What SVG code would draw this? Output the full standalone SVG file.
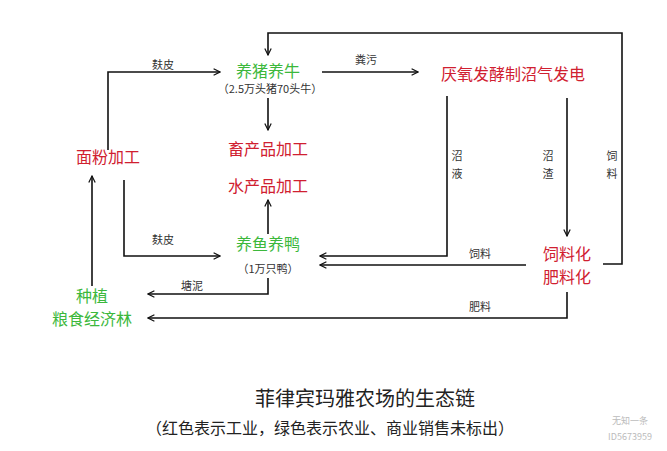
<svg xmlns="http://www.w3.org/2000/svg" width="667" height="451" viewBox="0 0 667 451">
<style>
text{font-family:"Noto Sans CJK SC","Liberation Sans",sans-serif;text-anchor:middle}
.g{fill:#3cb83c;font-size:16px}
.r{fill:#d02030;font-size:16px}
.l{fill:#333;font-size:11px}
.c path{fill:none;stroke:#111;stroke-width:1.6;marker-end:url(#a)}
</style>
<defs><marker id="a" viewBox="0 0 10 10" refX="9" refY="5" markerWidth="8" markerHeight="8" markerUnits="userSpaceOnUse" orient="auto"><path d="M1 1L9 5L1 9" fill="none" stroke="#111" stroke-width="1.5"/></marker></defs>
<rect width="667" height="451" fill="#fff"/>
<g class="c">
<path d="M108 150V72H220"/>
<path d="M322 72H418"/>
<path d="M268 98V130"/>
<path d="M268 234V200"/>
<path d="M124 180V256H220"/>
<path d="M447 96V256H320"/>
<path d="M567 98V236"/>
<path d="M603 264H622V33H268V55"/>
<path d="M526 265H320"/>
<path d="M268 278V294H148"/>
<path d="M567 292V318H148"/>
<path d="M92 286V176"/>
</g>
<g class="l">
<text x="163" y="69">麸皮</text>
<text x="366" y="64">粪污</text>
<text x="163" y="244">麸皮</text>
<text x="457" y="160">沼</text><text x="457" y="178">液</text>
<text x="548" y="160">沼</text><text x="548" y="178">渣</text>
<text x="612" y="160">饲</text><text x="612" y="178">料</text>
<text x="480" y="258">饲料</text>
<text x="192" y="290">塘泥</text>
<text x="480" y="311">肥料</text>
</g>
<g id="pig"><text class="g" x="268" y="77">养猪养牛</text><text class="l" x="270" y="93">（2.5万头猪70头牛）</text></g>
<g id="biogas"><text class="r" x="513" y="80">厌氧发酵制沼气发电</text></g>
<g id="xu"><text class="r" x="268" y="155">畜产品加工</text></g>
<g id="shui"><text class="r" x="268" y="192">水产品加工</text></g>
<g id="flour"><text class="r" x="108" y="163">面粉加工</text></g>
<g id="fish"><text class="g" x="268" y="250">养鱼养鸭</text><text class="l" x="268" y="273">（1万只鸭）</text></g>
<g id="feed"><text class="r" x="567" y="260">饲料化</text><text class="r" x="567" y="283">肥料化</text></g>
<g id="plant"><text class="g" x="92" y="302">种植</text><text class="g" x="92" y="325">粮食经济林</text></g>
<text x="365" y="406" style="font-size:20px;fill:#222">菲律宾玛雅农场的生态链</text>
<text x="330" y="434" style="font-size:16px;fill:#222">（红色表示工业，绿色表示农业、商业销售未标出）</text>
<text x="630" y="424" style="font-size:9px;fill:#bbb">无知一条</text>
<text x="630" y="440" style="font-size:9px;fill:#bbb">ID5673959</text>
</svg>
